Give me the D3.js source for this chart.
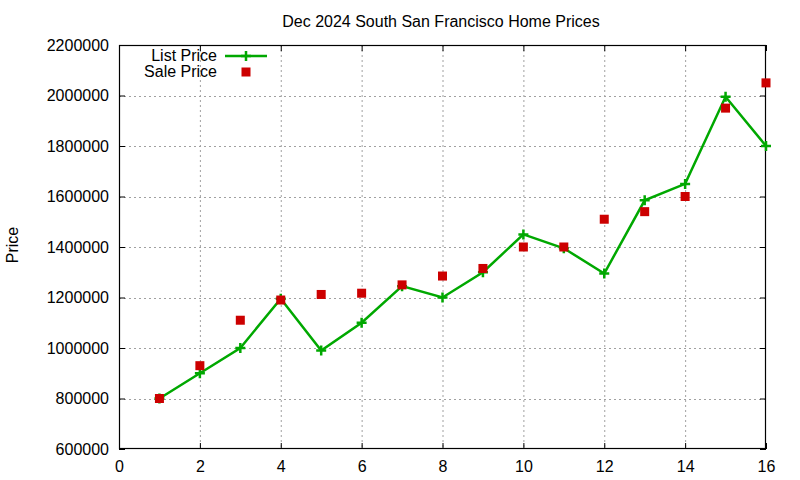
<!DOCTYPE html>
<html>
<head>
<meta charset="utf-8">
<script src="https://cdn.jsdelivr.net/npm/d3@7"></script>
<style>
  html, body { margin: 0; padding: 0; background: #fff; }
  svg { display: block; }
  text { font-family: "Liberation Sans", Arial, sans-serif; fill: #000; }
</style>
</head>
<body>
<svg id="chart" width="800" height="480"></svg>
<script>
const title = "Dec 2024 South San Francisco Home Prices";
const yLabel = "Price";
const months = [1, 2, 3, 4, 5, 6, 7, 8, 9, 10, 11, 12, 13, 14, 15, 16];
const listPrice = [800000, 900000, 1000000, 1195000, 990000, 1100000, 1245000, 1200000, 1300000, 1450000, 1395000, 1295000, 1585000, 1650000, 1995000, 1800000];
const salePrice = [800000, 930000, 1110000, 1190000, 1212000, 1217000, 1250000, 1285000, 1315000, 1400000, 1400000, 1510000, 1540000, 1600000, 1950000, 2050000];
const xTicks = [0, 2, 4, 6, 8, 10, 12, 14, 16];
const yTicks = [600000, 800000, 1000000, 1200000, 1400000, 1600000, 1800000, 2000000, 2200000];
const seriesNames = ["List Price", "Sale Price"];

const green = "#00a800";
const red = "#cc0000";

const svg = d3.select("#chart");
const L = 119, R = 766, T = 45, B = 449;
const x = d3.scaleLinear().domain([0, 16]).range([L, R]);
const y = d3.scaleLinear().domain([600000, 2200000]).range([B, T]);

// grid
const grid = svg.append("g");
grid.selectAll("line.gx").data(xTicks.slice(1, -1)).enter().append("line")
  .attr("x1", d => x(d) + 0.5).attr("x2", d => x(d) + 0.5)
  .attr("y1", T).attr("y2", B)
  .attr("stroke", "#a0a0a0").attr("stroke-width", 1).attr("stroke-dasharray", "2,3");
grid.selectAll("line.gy").data(yTicks.slice(1, -1)).enter().append("line")
  .attr("y1", d => Math.round(y(d)) + 0.5).attr("y2", d => Math.round(y(d)) + 0.5)
  .attr("x1", L).attr("x2", R)
  .attr("stroke", "#a0a0a0").attr("stroke-width", 1).attr("stroke-dasharray", "2,3");

// axes (inward ticks, mirrored)
const tickLen = 6;
const axB = svg.append("g").attr("transform", `translate(0,${B})`)
  .call(d3.axisBottom(x).tickValues(xTicks).tickSizeInner(-tickLen).tickSizeOuter(0).tickPadding(12));
const axT = svg.append("g").attr("transform", `translate(0,${T})`)
  .call(d3.axisTop(x).tickValues(xTicks).tickSizeInner(-tickLen).tickSizeOuter(0).tickFormat(""));
const axL = svg.append("g").attr("transform", `translate(${L},0)`)
  .call(d3.axisLeft(y).tickValues(yTicks).tickSizeInner(-tickLen).tickSizeOuter(0).tickPadding(10).tickFormat(d3.format("d")));
const axR = svg.append("g").attr("transform", `translate(${R},0)`)
  .call(d3.axisRight(y).tickValues(yTicks).tickSizeInner(-tickLen).tickSizeOuter(0).tickFormat(""));
[axB, axT, axL, axR].forEach(a => {
  a.select(".domain").remove();
  a.selectAll(".tick line").attr("stroke", "#000");
  a.selectAll("text").attr("font-size", 16).attr("font-family", "Liberation Sans, Arial, sans-serif").attr("fill", "#000");
});
axB.selectAll("text").attr("dy", "0.71em");

// frame
svg.append("rect").attr("x", L + 0.5).attr("y", T + 0.5).attr("width", R - L - 1).attr("height", B - T - 1)
  .attr("fill", "none").attr("stroke", "#000").attr("stroke-width", 1.2);

// list price line
const line = d3.line().x((d, i) => x(months[i])).y(d => y(d));
svg.append("path").datum(listPrice).attr("d", line)
  .attr("fill", "none").attr("stroke", green).attr("stroke-width", 2.5);

const plus = (g, cx, cy) => {
  g.append("path").attr("d", `M${cx - 5},${cy}H${cx + 5}M${cx},${cy - 5}V${cy + 5}`)
    .attr("stroke", green).attr("stroke-width", 2.5).attr("fill", "none");
};
const pts = svg.append("g");
listPrice.forEach((v, i) => plus(pts, x(months[i]), y(v)));

// sale price squares
svg.append("g").selectAll("rect").data(salePrice).enter().append("rect")
  .attr("x", (d, i) => x(months[i]) - 4.5).attr("y", d => y(d) - 4.5)
  .attr("width", 9).attr("height", 9).attr("fill", red);

// title
svg.append("text").attr("x", 441).attr("y", 27).attr("text-anchor", "middle")
  .attr("font-size", 16).text(title);

// y label
svg.append("text").attr("transform", "translate(18,245) rotate(-90)")
  .attr("text-anchor", "middle").attr("font-size", 16).text(yLabel);

// legend
const lg = svg.append("g");
lg.append("text").attr("x", 217).attr("y", 61).attr("text-anchor", "end").attr("font-size", 16).text(seriesNames[0]);
lg.append("text").attr("x", 217).attr("y", 77).attr("text-anchor", "end").attr("font-size", 16).text(seriesNames[1]);
lg.append("line").attr("x1", 225).attr("x2", 267).attr("y1", 56).attr("y2", 56)
  .attr("stroke", green).attr("stroke-width", 2.5);
plus(lg, 246, 56);
lg.append("rect").attr("x", 246 - 4.5).attr("y", 72 - 4.5).attr("width", 9).attr("height", 9).attr("fill", red);
</script>
</body>
</html>
